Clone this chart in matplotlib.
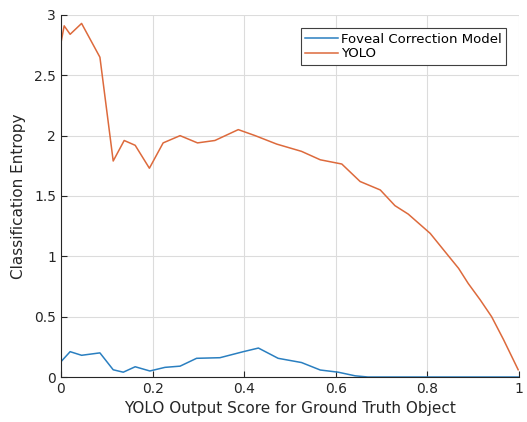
import matplotlib.pyplot as plt
import numpy as np

# YOLO curve
yolo_x = [0.0, 0.007, 0.02, 0.045, 0.085, 0.114, 0.138, 0.162, 0.193, 0.223, 0.26,
          0.298, 0.336, 0.387, 0.424, 0.471, 0.525, 0.566, 0.613, 0.653, 0.697,
          0.729, 0.758, 0.806, 0.838, 0.868, 0.889, 0.915, 0.94, 0.966, 0.998]
yolo_y = [2.77, 2.91, 2.84, 2.93, 2.65, 1.79, 1.96, 1.92, 1.73, 1.94, 2.0,
          1.94, 1.96, 2.05, 2.0, 1.93, 1.87, 1.80, 1.765, 1.62, 1.55,
          1.42, 1.35, 1.19, 1.04, 0.90, 0.775, 0.64, 0.50, 0.31, 0.06]

# Foveal correction model curve
fov_x = [0.0, 0.02, 0.045, 0.085, 0.114, 0.136, 0.162, 0.194, 0.227, 0.26, 0.296,
         0.347, 0.398, 0.431, 0.474, 0.525, 0.566, 0.605, 0.642, 0.67, 0.75,
         0.85, 0.95, 1.0]
fov_y = [0.127, 0.21, 0.18, 0.20, 0.06, 0.04, 0.085, 0.05, 0.08, 0.09, 0.155,
         0.16, 0.21, 0.24, 0.155, 0.12, 0.058, 0.04, 0.01, 0.0, 0.0,
         0.0, 0.0, 0.0]

xticks = [0, 0.2, 0.4, 0.6, 0.8, 1]
xlabels = ['0', '0.2', '0.4', '0.6', '0.8', '1']
yticks = [0, 0.5, 1, 1.5, 2, 2.5, 3]
ylabels = ['0', '0.5', '1', '1.5', '2', '2.5', '3']

plt.rcParams['font.family'] = 'DejaVu Sans'

fig = plt.figure(figsize=(5.27, 4.22), dpi=100)
ax = fig.add_axes([0.1157, 0.1066, 0.8693, 0.8579])

ax.plot(fov_x, fov_y, color='#2a7fc0', lw=1.1, label='Foveal Correction Model')
ax.plot(yolo_x, yolo_y, color='#dd6a3c', lw=1.1, label='YOLO')

ax.set_xlim(0, 1)
ax.set_ylim(0, 3)
ax.set_xticks(xticks)
ax.set_xticklabels(xlabels)
ax.set_yticks(yticks)
ax.set_yticklabels(ylabels)
ax.tick_params(direction='in', length=4, labelsize=10, colors='#262626')
ax.grid(True, color='#dcdcdc', lw=0.8)
ax.set_axisbelow(True)

for s in ['top', 'right']:
    ax.spines[s].set_visible(False)
for s in ['left', 'bottom']:
    ax.spines[s].set_color('#262626')
    ax.spines[s].set_linewidth(0.8)

ax.set_xlabel('YOLO Output Score for Ground Truth Object', fontsize=11, color='#262626', labelpad=4)
ax.set_ylabel('Classification Entropy', fontsize=11, color='#262626', labelpad=6)

leg = ax.legend(loc='upper right', bbox_to_anchor=(0.972, 0.964), borderaxespad=0,
                fontsize=9.5, fancybox=False, framealpha=1, edgecolor='#404040',
                handlelength=2.5, handletextpad=0.2, borderpad=0.35, labelspacing=0.12)
leg.get_frame().set_linewidth(0.8)

fig.savefig('out.png', dpi=100)
